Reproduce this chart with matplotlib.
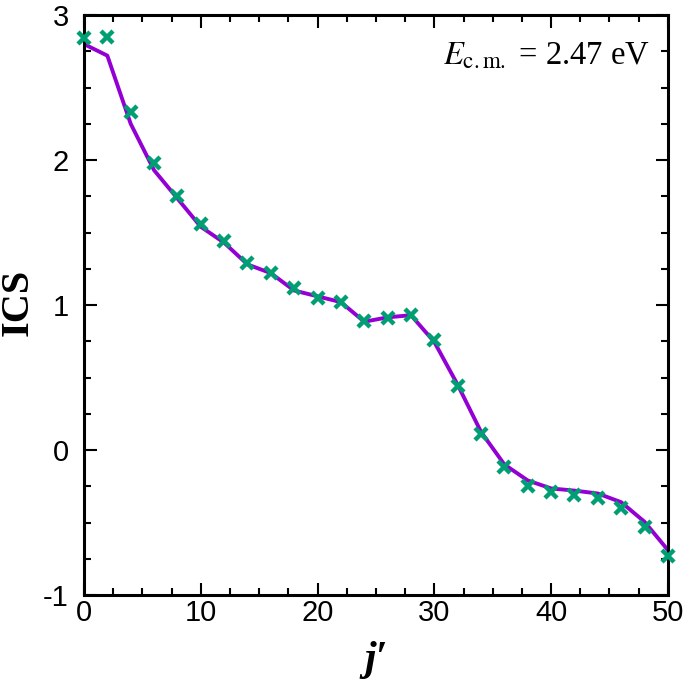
import matplotlib
matplotlib.use("Agg")
import matplotlib.pyplot as plt
from matplotlib.ticker import MultipleLocator

# j' values (even rotational states)
j_vals = [0, 2, 4, 6, 8, 10, 12, 14, 16, 18, 20, 22, 24,
          26, 28, 30, 32, 34, 36, 38, 40, 42, 44, 46, 48, 50]

# points (crosses)
ics_points = [2.84, 2.85, 2.33, 1.98, 1.75, 1.56, 1.44, 1.29, 1.22, 1.12, 1.05, 1.02, 0.89,
              0.91, 0.93, 0.76, 0.44, 0.11, -0.12, -0.25, -0.29, -0.31, -0.33, -0.40, -0.53, -0.73]

# line
ics_line = [2.80, 2.72, 2.25, 1.93, 1.735, 1.54, 1.43, 1.28, 1.22, 1.10, 1.06, 1.02, 0.885,
            0.915, 0.93, 0.745, 0.45, 0.125, -0.10, -0.21, -0.265, -0.28, -0.30, -0.36, -0.495, -0.69]

plt.rcParams['mathtext.fontset'] = 'stix'
plt.rcParams['axes.unicode_minus'] = False

fig = plt.figure(figsize=(6.85, 6.85), dpi=100)
ax = fig.add_axes([0.1226, 0.1314, 0.8524, 0.8466])

ax.plot(j_vals, ics_line, color='#9400D3', lw=2.8, zorder=2)
ax.plot(j_vals, ics_points, ls='none', marker='x', ms=9, mew=3.2, color='#009E73', zorder=3,
        clip_on=False)

ax.set_xlim(0, 50)
ax.set_ylim(-1, 3)
ax.xaxis.set_major_locator(MultipleLocator(10))
ax.xaxis.set_minor_locator(MultipleLocator(2.5))
ax.yaxis.set_major_locator(MultipleLocator(1))
ax.yaxis.set_minor_locator(MultipleLocator(0.25))
ax.tick_params(which='both', direction='in', top=True, right=True, width=1.5)
ax.tick_params(which='major', length=9, labelsize=21)
ax.tick_params(axis='x', which='major', pad=3)
ax.tick_params(axis='y', which='major', pad=11)
ax.tick_params(which='minor', length=5)
for lab in ax.get_xticklabels() + ax.get_yticklabels():
    lab.set_family('Liberation Sans')
for s in ax.spines.values():
    s.set_linewidth(2.2)

# axis titles placed in figure coords so they stay inside the canvas
fig.text(0.027, 0.559, 'ICS', rotation=90, ha='center', va='center',
         family='Liberation Serif', fontweight='bold', fontsize=29)
ax.set_xlabel("j\u2032", family='Liberation Serif', fontweight='bold', style='italic',
              fontsize=30, labelpad=10)

ax.text(0.97, 0.955, r'$E_{\rm c{.}m{.}}$ = 2.47 eV', transform=ax.transAxes, ha='right', va='top',
        family='Liberation Serif', fontsize=23.5)

fig.savefig('out.png', dpi=100)
